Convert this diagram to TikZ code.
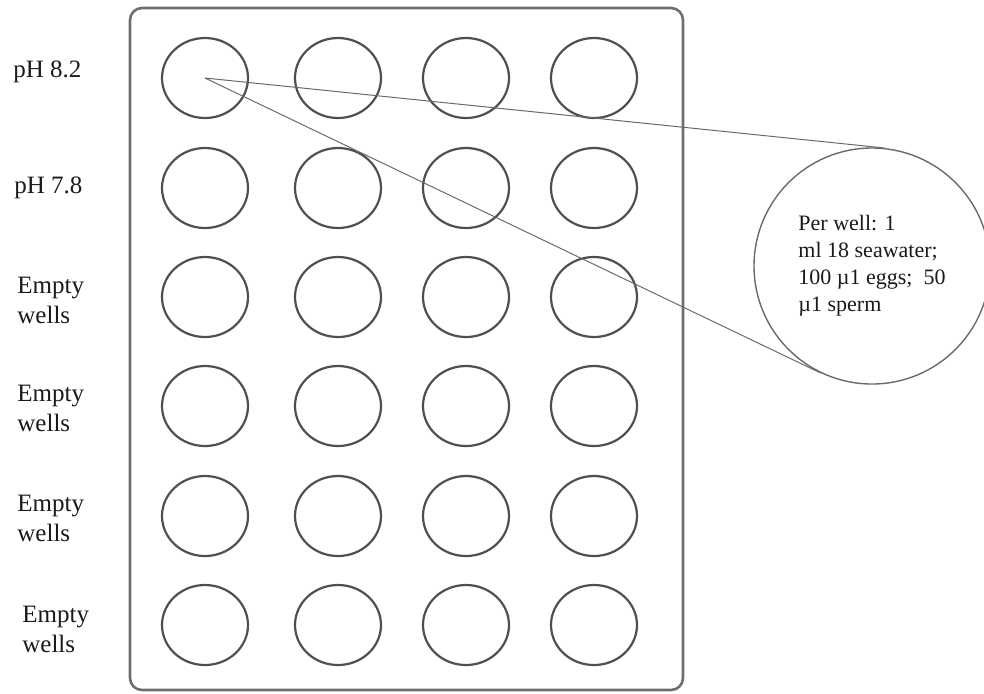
\documentclass[tikz,border=0pt]{standalone}
\usepackage{fontspec}
\setmainfont{Liberation Serif}
\usetikzlibrary{calc,shapes.geometric}
\definecolor{PlateEdge}{HTML}{6E6E6E}
\definecolor{WellEdge}{HTML}{4F4F4F}
\definecolor{LeadLine}{HTML}{6A6A6A}
\definecolor{LabelInk}{HTML}{1A1A1A}
\tikzset{
  every node/.style={text=LabelInk},
  plate/.style={draw=PlateEdge, line width=1.3pt, rounded corners=6pt},
  well/.style={ellipse, draw=WellEdge, line width=1.1pt, minimum width=43pt, minimum height=40pt, inner sep=0pt},
  rowlabel/.style={anchor=west, align=left, inner sep=0pt, font=\fontsize{12.5}{15}\selectfont},
  detail/.style={circle, draw=LeadLine, line width=0.7pt, minimum size=118pt, inner sep=0pt, align=left, font=\fontsize{11}{13.5}\selectfont},
  lead/.style={draw=LeadLine, line width=0.5pt},
}
\begin{document}
\begin{tikzpicture}[x=0.5pt, y=-0.5pt]
  \useasboundingbox (0,0) rectangle (984,693);
  % Plate
  \draw[plate] (130,8) rectangle (683,690);
  % Wells: six rows of four
  \foreach \r/\y in {1/78, 2/188, 3/297, 4/406, 5/516, 6/625} {
    \foreach \c/\x in {1/205, 2/338, 3/466, 4/594} {
      \node[well] (w\r\c) at (\x,\y) {};
    }
  }
  % Row labels
  \node[rowlabel] (lab1) at (13,72) {pH 8.2};
  \node[rowlabel] (lab2) at (14,188) {pH 7.8};
  \foreach \r/\x/\y in {3/17/300, 4/17/408, 5/17/518, 6/22/629} {
    \node[rowlabel] (lab\r) at (\x,\y) {Empty\\wells};
  }
  % Close-up of one well
  \node[detail] (zoom) at (872,266)
    {Per well: 1\\ml 18 seawater;\\100 µ1 eggs;~ 50\\µ1 sperm};
  \draw[lead] (w11.center) -- (tangent cs:node=zoom,point={(w11.center)},solution=1);
  \draw[lead] (w11.center) -- (tangent cs:node=zoom,point={(w11.center)},solution=2);
\end{tikzpicture}
\end{document}
